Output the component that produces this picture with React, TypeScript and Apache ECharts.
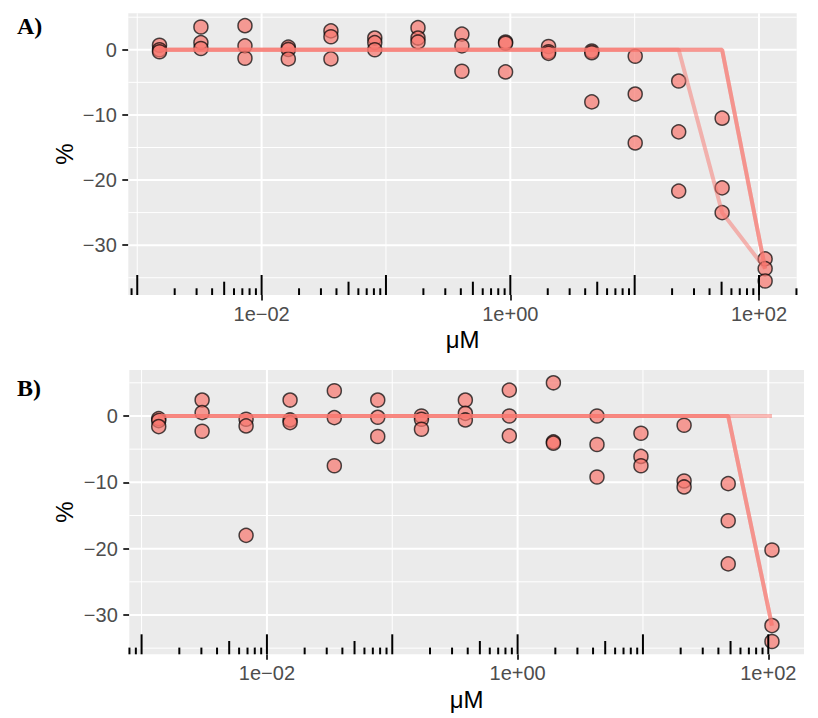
import { useRef, useEffect } from "react";
import * as echarts from "echarts";

// concentrations (µM), one list per panel
const concA = [0.00151, 0.00325, 0.00735, 0.0164, 0.0361, 0.0813, 0.181, 0.408, 0.916, 2.03, 4.52, 10.1, 22.6, 50.5, 112];
const concB = [0.00137, 0.00304, 0.00682, 0.0153, 0.0345, 0.0766, 0.171, 0.383, 0.859, 1.93, 4.3, 9.64, 21.3, 47.9, 107];

// replicates (%), panel A
const repA1 = [0.7, 3.5, 3.7, 0.4, 2.9, 1.8, 3.4, 2.4, 1.2, 0.5, -0.2, -1.0, -4.8, -10.5, -32.1];
const repA2 = [0.0, 1.1, 0.6, 0.05, 2.0, 1.1, 1.8, 0.6, 1.0, -0.3, -0.45, -6.8, -12.6, -21.2, -33.6];
const repA3 = [-0.3, 0.2, -1.3, -1.4, -1.4, 0.0, 1.2, -3.3, -3.4, -0.55, -8.0, -14.3, -21.7, -25.0, -35.5];

// replicates (%), panel B
const repB1 = [-0.4, 2.4, -0.5, 2.4, 3.8, 2.4, 0.0, 2.4, 3.9, 5.0, 0.0, -2.6, -1.4, -10.2, -20.2];
const repB2 = [-0.7, 0.5, -1.5, -0.6, -0.25, -0.2, -0.5, 0.4, 0.0, -3.9, -4.3, -6.1, -9.8, -15.8, -31.6];
const repB3 = [-1.6, -2.3, -18.0, -1.0, -7.5, -3.1, -2.0, -0.6, -3.0, -4.1, -9.2, -7.5, -10.7, -22.3, -34.0];

// fitted lines, three per panel (translucent, overlaps look darker)
const fitA1 = [0, 0, 0, 0, 0, 0, 0, 0, 0, 0, 0, 0, 0, 0, -33.6];
const fitA2 = [0, 0, 0, 0, 0, 0, 0, 0, 0, 0, 0, 0, 0, 0, -33.6];
const fitA3 = [0, 0, 0, 0, 0, 0, 0, 0, 0, 0, 0, 0, 0, -25.0, -33.6];
const fitB1 = [0, 0, 0, 0, 0, 0, 0, 0, 0, 0, 0, 0, 0, 0, -31.6];
const fitB2 = [0, 0, 0, 0, 0, 0, 0, 0, 0, 0, 0, 0, 0, 0, -31.6];
const fitB3 = [0, 0, 0, 0, 0, 0, 0, 0, 0, 0, 0, 0, 0, 0, 0];

// breaks (x in log10 units)
const xBreaks = [-2, 0, 2];
const xMinor = [-3, -1, 1];
const yBreaks = [-30, -20, -10, 0];
const yMinor = [-35, -25, -15, -5, 5];

const panels = [
    {
        tag: "A)", conc: concA, reps: [repA1, repA2, repA3], fits: [fitA1, fitA2, fitA3],
        grid: { left: 128.3, top: 13.3, width: 668.4, height: 281.7 },
        x: [-3.072, 2.303], y: [-37.65, 5.6],
        tagY: 26, titleY: 154, unitX: 462.7, unitY: 339,
    },
    {
        tag: "B)", conc: concB, reps: [repB1, repB2, repB3], fits: [fitB1, fitB2, fitB3],
        grid: { left: 129.3, top: 370, width: 674.7, height: 284.3 },
        x: [-3.098, 2.285], y: [-35.93, 6.93],
        tagY: 387.5, titleY: 512, unitX: 466.7, unitY: 699.5,
    },
];

const SALMON = "#F8766D";
const MINUS = "\u2212";

const fmtX = (v: number) => {
    const e = Math.round(v);
    return "1e" + (e < 0 ? MINUS : "+") + String(Math.abs(e)).padStart(2, "0");
};
const fmtY = (v: number) => (v < 0 ? MINUS + Math.abs(v) : String(v));

// annotation_logticks style ticks: 0 short, 1 mid (5x), 2 long (10^k)
function logTicks(lo: number, hi: number) {
    const out: number[][] = [];
    for (let k = -5; k <= 3; k++) {
        for (let j = 1; j <= 9; j++) {
            const v = Math.log10(j * Math.pow(10, k));
            if (v >= lo && v <= hi) out.push([v, j === 1 ? 2 : j === 5 ? 1 : 0]);
        }
    }
    return out;
}

function App() {
    const chartRef = useRef<HTMLDivElement | null>(null);

    useEffect(() => {
        if (!chartRef.current) return;
        document.body.style.margin = "0";
        const chart = echarts.init(chartRef.current, null, { renderer: "svg" });

        const grids: any[] = [];
        const xAxes: any[] = [];
        const yAxes: any[] = [];
        const series: any[] = [];
        const graphics: any[] = [];

        panels.forEach((p, i) => {
            grids.push({
                ...p.grid,
                show: true,
                backgroundColor: "#EBEBEB",
                borderWidth: 0,
                containLabel: false,
                outerBoundsMode: "none",
            });
            xAxes.push({
                gridIndex: i,
                type: "value",
                position: "bottom",
                min: p.x[0],
                max: p.x[1],
                axisLine: { show: false, onZero: false },
                splitLine: { show: false },
                axisTick: { show: true, customValues: xBreaks, length: 5.5, lineStyle: { color: "#333", width: 2 } },
                axisLabel: {
                    customValues: xBreaks,
                    formatter: fmtX,
                    color: "#4D4D4D",
                    fontSize: 20,
                    margin: 9,
                    fontFamily: "Liberation Sans",
                },
            });
            yAxes.push({
                gridIndex: i,
                type: "value",
                position: "left",
                min: p.y[0],
                max: p.y[1],
                axisLine: { show: false, onZero: false },
                splitLine: { show: false },
                axisTick: { show: true, customValues: yBreaks, length: 6, lineStyle: { color: "#333", width: 2 } },
                axisLabel: {
                    customValues: yBreaks,
                    formatter: fmtY,
                    color: "#4D4D4D",
                    fontSize: 20,
                    margin: 11.5,
                    fontFamily: "Liberation Sans",
                },
            });

            const [x0, x1] = p.x;
            const [y0, y1] = p.y;

            // panel grid lines
            const gridData = [
                ...xBreaks.map((v) => [v, 0, 2]),
                ...xMinor.map((v) => [v, 0, 1]),
                ...yBreaks.map((v) => [v, 1, 2]),
                ...yMinor.map((v) => [v, 1, 1]),
            ];
            series.push({
                type: "custom",
                xAxisIndex: i,
                yAxisIndex: i,
                z: 1,
                silent: true,
                data: gridData,
                renderItem: (_params: any, api: any) => {
                    const v = api.value(0);
                    const dir = api.value(1);
                    const w = api.value(2);
                    const a = dir === 0 ? api.coord([v, y0]) : api.coord([x0, v]);
                    const b = dir === 0 ? api.coord([v, y1]) : api.coord([x1, v]);
                    return {
                        type: "line",
                        shape: { x1: a[0], y1: a[1], x2: b[0], y2: b[1] },
                        style: { stroke: "#FFFFFF", lineWidth: w },
                    };
                },
            });

            // points
            const pts: number[][] = [];
            p.conc.forEach((c, k) => {
                p.reps.forEach((r) => pts.push([Math.log10(c), r[k]]));
            });
            series.push({
                type: "scatter",
                xAxisIndex: i,
                yAxisIndex: i,
                z: 2,
                symbolSize: 14,
                itemStyle: { color: SALMON, borderColor: "#000", borderWidth: 1.5, opacity: 0.7 },
                data: pts,
            });

            // fitted lines
            p.fits.forEach((f) => {
                series.push({
                    type: "line",
                    xAxisIndex: i,
                    yAxisIndex: i,
                    z: 3,
                    silent: true,
                    symbol: "none",
                    lineStyle: { color: SALMON, width: 4, opacity: 0.5 },
                    data: p.conc.map((c, k) => [Math.log10(c), f[k]]),
                });
            });

            // log ticks along the bottom of the panel
            series.push({
                type: "custom",
                xAxisIndex: i,
                yAxisIndex: i,
                z: 4,
                silent: true,
                data: logTicks(x0, x1),
                renderItem: (_params: any, api: any) => {
                    const pt = api.coord([api.value(0), y0]);
                    const len = [6.7, 13.3, 20][api.value(1)];
                    return {
                        type: "line",
                        shape: { x1: pt[0], y1: pt[1], x2: pt[0], y2: pt[1] - len },
                        style: { stroke: "#000", lineWidth: 2 },
                    };
                },
            });

            graphics.push(
                {
                    type: "text",
                    x: 17,
                    y: p.tagY,
                    style: {
                        text: p.tag,
                        font: 'bold 24px "Liberation Serif"',
                        fill: "#000",
                        textAlign: "left",
                        textVerticalAlign: "middle",
                    },
                },
                {
                    type: "text",
                    x: 64,
                    y: p.titleY,
                    rotation: Math.PI / 2,
                    style: {
                        text: "%",
                        font: '24px "Liberation Sans"',
                        fill: "#000",
                        textAlign: "center",
                        textVerticalAlign: "middle",
                    },
                },
                {
                    type: "text",
                    x: p.unitX,
                    y: p.unitY,
                    style: {
                        text: "\u03BCM",
                        font: '24px "Liberation Sans"',
                        fill: "#000",
                        textAlign: "center",
                        textVerticalAlign: "middle",
                    },
                }
            );
        });

        chart.setOption({
            animation: false,
            backgroundColor: "#FFFFFF",
            textStyle: { fontFamily: "Liberation Sans" },
            grid: grids,
            xAxis: xAxes,
            yAxis: yAxes,
            series,
            graphic: graphics,
        });

        const handleResize = () => chart.resize();
        window.addEventListener("resize", handleResize);
        return () => {
            window.removeEventListener("resize", handleResize);
            chart.dispose();
        };
    }, []);

    return <div ref={chartRef} style={{ width: "818px", height: "718px" }} />;
}

export default App;
